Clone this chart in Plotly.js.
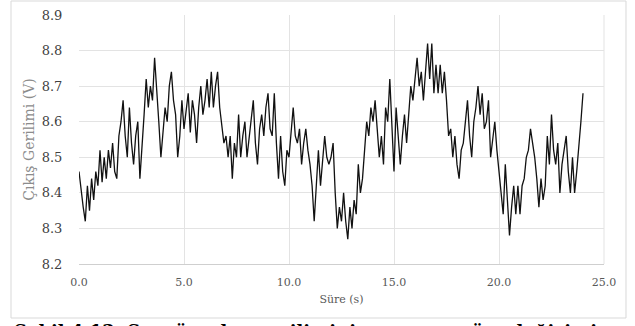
<!DOCTYPE html>
<html>
<head>
<meta charset="utf-8">
<script src="https://cdn.plot.ly/plotly-3.0.1.min.js"></script>
<style>
html,body{margin:0;padding:0;background:#fff;overflow:hidden;}
#chart{width:635px;height:326px;}
</style>
</head>
<body>
<div id="chart"></div>
<script>
// Time step 0.1 s, from 0.0 to 24.0 s
var timeStart = 0.0;
var timeStep = 0.1;
var voltage = [
  8.46, 8.40, 8.36, 8.32, 8.42, 8.35, 8.44, 8.38, 8.46, 8.42,
  8.52, 8.43, 8.50, 8.44, 8.52, 8.47, 8.54, 8.46, 8.44, 8.56,
  8.60, 8.66, 8.56, 8.50, 8.64, 8.54, 8.48, 8.56, 8.60, 8.44,
  8.52, 8.62, 8.72, 8.64, 8.70, 8.66, 8.78, 8.70, 8.60, 8.50,
  8.58, 8.64, 8.60, 8.70, 8.74, 8.66, 8.62, 8.50, 8.56, 8.66,
  8.58, 8.64, 8.68, 8.57, 8.66, 8.62, 8.54, 8.64, 8.70, 8.62,
  8.66, 8.72, 8.64, 8.74, 8.64, 8.70, 8.74, 8.64, 8.58, 8.54,
  8.56, 8.50, 8.56, 8.44, 8.54, 8.50, 8.62, 8.50, 8.56, 8.60,
  8.50, 8.56, 8.60, 8.66, 8.54, 8.48, 8.58, 8.62, 8.56, 8.64,
  8.68, 8.58, 8.56, 8.68, 8.54, 8.44, 8.56, 8.46, 8.42, 8.52,
  8.50, 8.58, 8.64, 8.56, 8.54, 8.58, 8.48, 8.54, 8.58, 8.52,
  8.48, 8.42, 8.32, 8.42, 8.52, 8.42, 8.48, 8.56, 8.50, 8.48,
  8.50, 8.54, 8.40, 8.30, 8.36, 8.32, 8.40, 8.32, 8.27, 8.36,
  8.30, 8.38, 8.34, 8.48, 8.40, 8.44, 8.52, 8.60, 8.56, 8.64,
  8.60, 8.66, 8.58, 8.50, 8.56, 8.48, 8.64, 8.60, 8.72, 8.58,
  8.46, 8.64, 8.56, 8.48, 8.56, 8.62, 8.54, 8.62, 8.70, 8.66,
  8.72, 8.78, 8.70, 8.74, 8.66, 8.74, 8.82, 8.72, 8.82, 8.68,
  8.76, 8.68, 8.76, 8.68, 8.74, 8.66, 8.56, 8.58, 8.50, 8.56,
  8.48, 8.44, 8.52, 8.54, 8.60, 8.66, 8.56, 8.50, 8.60, 8.64,
  8.70, 8.62, 8.68, 8.58, 8.60, 8.66, 8.50, 8.56, 8.60, 8.52,
  8.46, 8.40, 8.34, 8.48, 8.38, 8.28, 8.36, 8.42, 8.34, 8.42,
  8.34, 8.42, 8.44, 8.50, 8.52, 8.58, 8.54, 8.50, 8.44, 8.36,
  8.44, 8.38, 8.42, 8.56, 8.48, 8.62, 8.52, 8.48, 8.54, 8.40,
  8.48, 8.52, 8.56, 8.46, 8.40, 8.50, 8.40, 8.46, 8.52, 8.60,
  8.68
];
var xTickVals = [0, 5, 10, 15, 20, 25];
var xTickText = ["0.0", "5.0", "10.0", "15.0", "20.0", "25.0"];
var yTickVals = [8.2, 8.3, 8.4, 8.5, 8.6, 8.7, 8.8, 8.9];
var yTickText = ["8.2", "8.3", "8.4", "8.5", "8.6", "8.7", "8.8", "8.9"];
var yTitle = "Çıkış Gerilimi (V)";
var xTitle = "Süre (s)";
var caption = "Şekil 4.12. Sensör çıkış geriliminin zamana göre değişimi";

var time = voltage.map(function(_, i){ return +(timeStart + i * timeStep).toFixed(1); });

var serif = "'DejaVu Serif', 'Liberation Serif', serif";

var trace = {
  x: time, y: voltage, type: 'scatter', mode: 'lines',
  line: {color: '#111111', width: 1.3},
  hoverinfo: 'skip'
};

var layout = {
  width: 635, height: 326,
  margin: {l: 79, r: 31, t: 15, b: 62},
  paper_bgcolor: '#ffffff', plot_bgcolor: '#ffffff',
  showlegend: false,
  xaxis: {
    range: [0, 25], tickvals: xTickVals, ticktext: xTickText,
    showgrid: true, gridcolor: '#e3e3e3', gridwidth: 1,
    zeroline: false, showline: true, linecolor: '#cfcfcf', linewidth: 1,
    ticks: 'outside', ticklen: 8, tickcolor: 'rgba(0,0,0,0)',
    tickfont: {family: serif, size: 11, color: '#595959'},
    title: {text: xTitle, font: {family: serif, size: 11, color: '#595959'}, standoff: 7}
  },
  yaxis: {
    range: [8.2, 8.9], tickvals: yTickVals, ticktext: yTickText,
    showgrid: true, gridcolor: '#e3e3e3', gridwidth: 1,
    zeroline: false, showline: false,
    ticks: 'outside', ticklen: 13, tickcolor: 'rgba(0,0,0,0)',
    tickfont: {family: serif, size: 13, color: '#404040'},
    title: {text: yTitle, font: {family: serif, size: 14, color: '#8c8c8c'}, standoff: 3}
  },
  shapes: [
    {type: 'rect', xref: 'paper', yref: 'paper',
     x0: -0.1295, x1: 1.0419, y0: -0.2169, y1: 1.0562,
     line: {color: '#d9d9d9', width: 1}, fillcolor: 'rgba(0,0,0,0)', layer: 'below'},
    {type: 'line', xref: 'paper', yref: 'paper',
     x0: 1, x1: 1, y0: 0, y1: 1,
     line: {color: '#e3e3e3', width: 1}, layer: 'below'}
  ],
  annotations: [
    {xref: 'paper', yref: 'paper', x: -0.127, y: -0.222,
     xanchor: 'left', yanchor: 'top', showarrow: false,
     text: '<b>' + caption + '</b>',
     font: {family: serif, size: 18, color: '#000000'}}
  ]
};

Plotly.newPlot('chart', [trace], layout, {displayModeBar: false, staticPlot: true});
</script>
</body>
</html>
